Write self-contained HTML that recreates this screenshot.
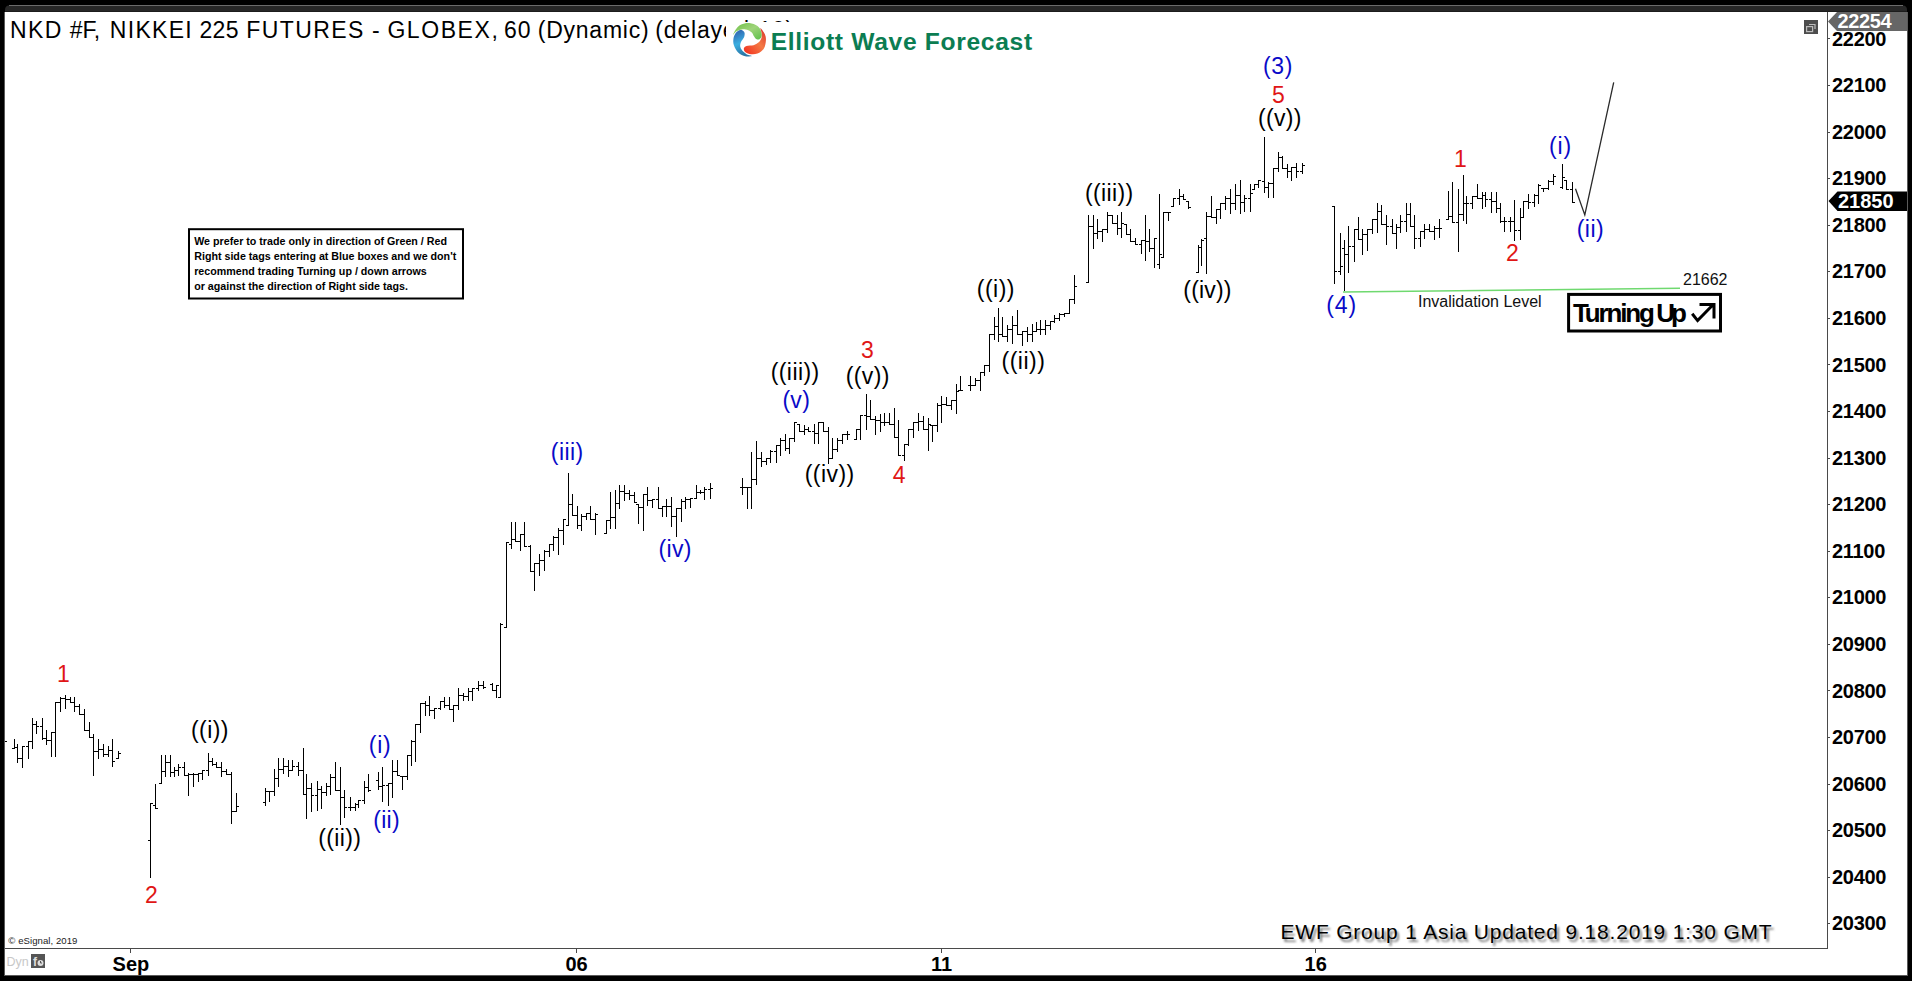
<!DOCTYPE html><html><head><meta charset="utf-8"><style>html,body{margin:0;padding:0;background:#000;width:1912px;height:981px;overflow:hidden}svg{display:block}text{font-family:"Liberation Sans",sans-serif}</style></head><body>
<svg width="1912" height="981" viewBox="0 0 1912 981">
<defs><filter id="sh" x="-5%" y="-30%" width="110%" height="160%"><feGaussianBlur stdDeviation="1.0"/></filter><linearGradient id="gG" x1="0" y1="0" x2="1" y2="1"><stop offset="0" stop-color="#6cbf45"/><stop offset="0.5" stop-color="#9fd47a"/><stop offset="1" stop-color="#5cc04a"/></linearGradient><linearGradient id="gR" x1="1" y1="0" x2="0" y2="1"><stop offset="0" stop-color="#d9302a"/><stop offset="0.45" stop-color="#f47a45"/><stop offset="1" stop-color="#f22a1c"/></linearGradient><linearGradient id="gB" x1="0" y1="0" x2="0.3" y2="1"><stop offset="0" stop-color="#2f5aa8"/><stop offset="0.55" stop-color="#3aaee0"/><stop offset="1" stop-color="#2a78a8"/></linearGradient></defs>
<rect x="0" y="0" width="1912" height="981" fill="#000"/>
<path d="M9 5.5 H1903 Q1907 5.5 1907 10 V12 H5 V10 Q5 5.5 9 5.5 Z" fill="#272727"/>
<path d="M9 5.5 H1903" stroke="#6b6b6b" stroke-width="1"/>
<rect x="5" y="11" width="1902" height="1" fill="#1c1c1c"/>
<rect x="4" y="12" width="1904" height="964" fill="#5a5a5a"/>
<rect x="5" y="12" width="1902" height="963" fill="#fff"/>
<rect x="1827" y="12" width="1" height="937" fill="#4a4a4a"/>
<rect x="5" y="948" width="1823" height="1" fill="#4a4a4a"/>
<rect x="1828" y="38" width="2" height="1" fill="#4a4a4a"/>
<text x="1832" y="45.5" font-size="20" font-weight="bold" letter-spacing="-0.3" fill="#000">22200</text>
<rect x="1828" y="85" width="2" height="1" fill="#4a4a4a"/>
<text x="1832" y="92.1" font-size="20" font-weight="bold" letter-spacing="-0.3" fill="#000">22100</text>
<rect x="1828" y="132" width="2" height="1" fill="#4a4a4a"/>
<text x="1832" y="138.6" font-size="20" font-weight="bold" letter-spacing="-0.3" fill="#000">22000</text>
<rect x="1828" y="178" width="2" height="1" fill="#4a4a4a"/>
<text x="1832" y="185.2" font-size="20" font-weight="bold" letter-spacing="-0.3" fill="#000">21900</text>
<rect x="1828" y="225" width="2" height="1" fill="#4a4a4a"/>
<text x="1832" y="231.8" font-size="20" font-weight="bold" letter-spacing="-0.3" fill="#000">21800</text>
<rect x="1828" y="271" width="2" height="1" fill="#4a4a4a"/>
<text x="1832" y="278.4" font-size="20" font-weight="bold" letter-spacing="-0.3" fill="#000">21700</text>
<rect x="1828" y="318" width="2" height="1" fill="#4a4a4a"/>
<text x="1832" y="324.9" font-size="20" font-weight="bold" letter-spacing="-0.3" fill="#000">21600</text>
<rect x="1828" y="364" width="2" height="1" fill="#4a4a4a"/>
<text x="1832" y="371.5" font-size="20" font-weight="bold" letter-spacing="-0.3" fill="#000">21500</text>
<rect x="1828" y="411" width="2" height="1" fill="#4a4a4a"/>
<text x="1832" y="418.1" font-size="20" font-weight="bold" letter-spacing="-0.3" fill="#000">21400</text>
<rect x="1828" y="458" width="2" height="1" fill="#4a4a4a"/>
<text x="1832" y="464.6" font-size="20" font-weight="bold" letter-spacing="-0.3" fill="#000">21300</text>
<rect x="1828" y="504" width="2" height="1" fill="#4a4a4a"/>
<text x="1832" y="511.2" font-size="20" font-weight="bold" letter-spacing="-0.3" fill="#000">21200</text>
<rect x="1828" y="551" width="2" height="1" fill="#4a4a4a"/>
<text x="1832" y="557.8" font-size="20" font-weight="bold" letter-spacing="-0.3" fill="#000">21100</text>
<rect x="1828" y="597" width="2" height="1" fill="#4a4a4a"/>
<text x="1832" y="604.3" font-size="20" font-weight="bold" letter-spacing="-0.3" fill="#000">21000</text>
<rect x="1828" y="644" width="2" height="1" fill="#4a4a4a"/>
<text x="1832" y="650.9" font-size="20" font-weight="bold" letter-spacing="-0.3" fill="#000">20900</text>
<rect x="1828" y="690" width="2" height="1" fill="#4a4a4a"/>
<text x="1832" y="697.5" font-size="20" font-weight="bold" letter-spacing="-0.3" fill="#000">20800</text>
<rect x="1828" y="737" width="2" height="1" fill="#4a4a4a"/>
<text x="1832" y="744.0" font-size="20" font-weight="bold" letter-spacing="-0.3" fill="#000">20700</text>
<rect x="1828" y="784" width="2" height="1" fill="#4a4a4a"/>
<text x="1832" y="790.6" font-size="20" font-weight="bold" letter-spacing="-0.3" fill="#000">20600</text>
<rect x="1828" y="830" width="2" height="1" fill="#4a4a4a"/>
<text x="1832" y="837.2" font-size="20" font-weight="bold" letter-spacing="-0.3" fill="#000">20500</text>
<rect x="1828" y="877" width="2" height="1" fill="#4a4a4a"/>
<text x="1832" y="883.8" font-size="20" font-weight="bold" letter-spacing="-0.3" fill="#000">20400</text>
<rect x="1828" y="923" width="2" height="1" fill="#4a4a4a"/>
<text x="1832" y="930.3" font-size="20" font-weight="bold" letter-spacing="-0.3" fill="#000">20300</text>
<path d="M1828 21.5 L1837 12 H1907 V31 H1837 Z" fill="#666"/>
<text x="1837.5" y="28.3" font-size="20" font-weight="bold" letter-spacing="-0.35" fill="#fff">22254</text>
<path d="M1828.5 201 L1837.5 191.5 H1907 V211 H1837.5 Z" fill="#000"/>
<text x="1838" y="208" font-size="20" font-weight="bold" fill="#fff">21850</text>
<rect x="1804" y="20" width="14" height="14" fill="#4d4d4d"/><path d="M1809 24.5 H1815 V29" stroke="#bbb" stroke-width="1.2" fill="none"/><rect x="1806.6" y="26.6" width="6" height="5" stroke="#bbb" stroke-width="1.2" fill="none"/>
<rect x="130" y="949" width="1" height="4" fill="#4a4a4a"/>
<text x="130.9" y="971" font-size="20" font-weight="bold" fill="#000" text-anchor="middle">Sep</text>
<rect x="576" y="949" width="1" height="4" fill="#4a4a4a"/>
<text x="576.5" y="971" font-size="20" font-weight="bold" fill="#000" text-anchor="middle">06</text>
<rect x="941" y="949" width="1" height="4" fill="#4a4a4a"/>
<text x="941.5" y="971" font-size="20" font-weight="bold" fill="#000" text-anchor="middle">11</text>
<rect x="1315" y="949" width="1" height="4" fill="#4a4a4a"/>
<text x="1315.7" y="971" font-size="20" font-weight="bold" fill="#000" text-anchor="middle">16</text>
<text x="8.3" y="943.8" font-size="9.6" letter-spacing="0.05" fill="#222">© eSignal, 2019</text>
<text x="6.5" y="966" font-size="12.5" fill="#c8c8c8">Dyn</text>
<rect x="31" y="954" width="14" height="14" fill="#555"/><text x="33" y="966" font-size="12" font-weight="bold" fill="#ddd">f</text><circle cx="40.5" cy="963" r="3" fill="#ddd"/><path d="M40.5 961 V963 H42" stroke="#555" stroke-width="1" fill="none"/>
<text x="9.93" y="37.60" font-size="23" letter-spacing="1.49" fill="#000">NKD</text>
<text x="69.78" y="37.60" font-size="23" letter-spacing="-0.16" fill="#000">#F,</text>
<text x="109.83" y="37.60" font-size="23" letter-spacing="1.30" fill="#000">NIKKEI</text>
<text x="199.38" y="37.60" font-size="23" letter-spacing="0.41" fill="#000">225</text>
<text x="246.22" y="37.60" font-size="23" letter-spacing="1.40" fill="#000">FUTURES</text>
<text x="371.90" y="37.60" font-size="23" letter-spacing="0.80" fill="#000">-</text>
<text x="387.38" y="37.60" font-size="23" letter-spacing="1.57" fill="#000">GLOBEX,</text>
<text x="504.07" y="37.60" font-size="23" letter-spacing="1.00" fill="#000">60</text>
<text x="537.73" y="37.60" font-size="23" letter-spacing="0.77" fill="#000">(Dynamic)</text>
<text x="655.33" y="37.60" font-size="23" letter-spacing="0.80" fill="#000">(delayed-10)</text>
<rect x="726" y="22" width="320" height="38" fill="#fff"/>
<path d="M733.10 34.70 C733.10 34.25 735.15 30.20 736.50 28.50 C737.85 26.80 739.05 25.40 741.20 24.50 C743.35 23.60 746.68 22.83 749.40 23.10 C752.12 23.37 755.53 24.72 757.50 26.10 C759.47 27.48 760.52 29.70 761.20 31.40 C761.88 33.10 761.93 34.97 761.60 36.30 C761.27 37.63 760.10 38.95 759.20 39.40 C758.30 39.85 757.10 39.57 756.20 39.00 C755.30 38.43 754.50 37.03 753.80 36.00 C753.10 34.97 752.93 33.77 752.00 32.80 C751.07 31.83 749.87 30.77 748.20 30.20 C746.53 29.63 743.95 29.23 742.00 29.40 C740.05 29.57 737.98 30.32 736.50 31.20 C735.02 32.08 733.10 35.15 733.10 34.70Z" fill="url(#gG)"/>
<path d="M760.40 28.00 C760.92 28.13 763.98 32.23 764.90 34.30 C765.82 36.37 766.07 38.03 765.90 40.40 C765.73 42.77 765.30 46.30 763.90 48.50 C762.50 50.70 759.92 52.68 757.50 53.60 C755.08 54.52 751.48 54.30 749.40 54.00 C747.32 53.70 745.92 52.75 745.00 51.80 C744.08 50.85 743.65 49.28 743.90 48.30 C744.15 47.32 744.90 46.42 746.50 45.90 C748.10 45.38 751.52 45.75 753.50 45.20 C755.48 44.65 757.10 43.70 758.40 42.60 C759.70 41.50 760.73 40.12 761.30 38.60 C761.87 37.08 761.95 35.27 761.80 33.50 C761.65 31.73 759.88 27.87 760.40 28.00Z" fill="url(#gR)"/>
<path d="M742.60 30.40 C743.47 30.87 744.38 31.80 744.60 33.00 C744.82 34.20 744.50 36.10 743.90 37.60 C743.30 39.10 741.62 40.52 741.00 42.00 C740.38 43.48 740.00 45.07 740.20 46.50 C740.40 47.93 741.08 49.28 742.20 50.60 C743.32 51.92 745.30 53.52 746.90 54.40 C748.50 55.28 752.07 55.60 751.80 55.90 C751.53 56.20 747.53 56.72 745.30 56.20 C743.07 55.68 740.30 54.62 738.40 52.80 C736.50 50.98 734.72 47.72 733.90 45.30 C733.08 42.88 733.17 40.38 733.50 38.30 C733.83 36.22 734.92 34.15 735.90 32.80 C736.88 31.45 738.28 30.60 739.40 30.20 C740.52 29.80 741.73 29.93 742.60 30.40Z" fill="url(#gB)"/>
<text x="770.67" y="49.60" font-size="24.6" font-weight="bold" letter-spacing="0.68" fill="#0b7d52">Elliott Wave Forecast</text>
<path d="M14 739h1v10h-1zM12 748h2v1h-2zM15 747h2v1h-2zM17 744h1v19h-1zM15 747h2v1h-2zM18 758h2v1h-2zM22 746h1v22h-1zM20 758h2v1h-2zM23 746h2v1h-2zM28 741h1v18h-1zM26 746h2v1h-2zM29 741h2v1h-2zM32 718h1v31h-1zM30 741h2v1h-2zM33 724h2v1h-2zM36 721h1v13h-1zM34 724h2v1h-2zM37 726h2v1h-2zM42 718h1v22h-1zM40 726h2v1h-2zM43 738h2v1h-2zM46 730h1v15h-1zM44 738h2v1h-2zM47 740h2v1h-2zM51 732h1v25h-1zM49 740h2v1h-2zM52 732h2v1h-2zM55 702h1v55h-1zM53 732h2v1h-2zM56 702h2v1h-2zM60 697h1v15h-1zM58 702h2v1h-2zM61 698h2v1h-2zM65 695h1v14h-1zM63 698h2v1h-2zM66 699h2v1h-2zM70 697h1v6h-1zM68 699h2v1h-2zM71 702h2v1h-2zM74 697h1v15h-1zM72 702h2v1h-2zM75 706h2v1h-2zM79 704h1v11h-1zM77 706h2v1h-2zM80 714h2v1h-2zM84 709h1v22h-1zM82 714h2v1h-2zM85 730h2v1h-2zM89 722h1v16h-1zM87 730h2v1h-2zM90 737h2v1h-2zM93 734h1v42h-1zM91 737h2v1h-2zM94 751h2v1h-2zM98 739h1v20h-1zM96 751h2v1h-2zM99 749h2v1h-2zM103 744h1v13h-1zM101 749h2v1h-2zM104 754h2v1h-2zM108 746h1v11h-1zM106 754h2v1h-2zM109 750h2v1h-2zM112 739h1v28h-1zM110 750h2v1h-2zM113 761h2v1h-2zM118 751h1v8h-1zM116 758h2v1h-2zM119 753h2v1h-2zM150 803h1v75h-1zM148 840h2v1h-2zM151 803h2v1h-2zM155 784h1v25h-1zM153 805h2v1h-2zM156 808h2v1h-2zM161 755h1v29h-1zM159 783h2v1h-2zM162 771h2v1h-2zM165 755h1v22h-1zM163 771h2v1h-2zM166 762h2v1h-2zM170 755h1v22h-1zM168 762h2v1h-2zM171 772h2v1h-2zM174 767h1v10h-1zM172 772h2v1h-2zM175 770h2v1h-2zM178 764h1v12h-1zM176 770h2v1h-2zM179 767h2v1h-2zM184 762h1v14h-1zM182 767h2v1h-2zM185 775h2v1h-2zM188 773h1v23h-1zM186 775h2v1h-2zM189 774h2v1h-2zM193 773h1v14h-1zM191 774h2v1h-2zM194 774h2v1h-2zM198 773h1v9h-1zM196 774h2v1h-2zM199 773h2v1h-2zM202 770h1v10h-1zM200 773h2v1h-2zM203 770h2v1h-2zM208 753h1v23h-1zM206 770h2v1h-2zM209 761h2v1h-2zM212 758h1v8h-1zM210 761h2v1h-2zM213 764h2v1h-2zM216 762h1v6h-1zM214 764h2v1h-2zM217 767h2v1h-2zM221 762h1v15h-1zM219 767h2v1h-2zM222 771h2v1h-2zM226 769h1v6h-1zM224 771h2v1h-2zM227 774h2v1h-2zM231 772h1v52h-1zM229 774h2v1h-2zM232 811h2v1h-2zM236 793h1v19h-1zM234 811h2v1h-2zM237 806h2v1h-2zM265 788h1v18h-1zM263 802h2v1h-2zM266 791h2v1h-2zM269 791h1v11h-1zM267 791h2v1h-2zM270 791h2v1h-2zM274 769h1v27h-1zM272 791h2v1h-2zM275 778h2v1h-2zM278 758h1v29h-1zM276 778h2v1h-2zM279 769h2v1h-2zM283 758h1v16h-1zM281 769h2v1h-2zM284 766h2v1h-2zM288 760h1v17h-1zM286 766h2v1h-2zM289 770h2v1h-2zM292 760h1v11h-1zM290 770h2v1h-2zM293 766h2v1h-2zM298 762h1v14h-1zM296 766h2v1h-2zM299 770h2v1h-2zM303 748h1v47h-1zM301 770h2v1h-2zM304 794h2v1h-2zM306 774h1v45h-1zM304 794h2v1h-2zM307 788h2v1h-2zM311 783h1v29h-1zM309 788h2v1h-2zM312 795h2v1h-2zM317 781h1v30h-1zM315 795h2v1h-2zM318 789h2v1h-2zM321 786h1v23h-1zM319 789h2v1h-2zM322 792h2v1h-2zM326 783h1v13h-1zM324 792h2v1h-2zM327 786h2v1h-2zM330 774h1v21h-1zM328 786h2v1h-2zM331 777h2v1h-2zM335 762h1v29h-1zM333 777h2v1h-2zM336 790h2v1h-2zM340 767h1v58h-1zM338 790h2v1h-2zM341 797h2v1h-2zM344 790h1v28h-1zM342 797h2v1h-2zM345 807h2v1h-2zM350 797h1v14h-1zM348 807h2v1h-2zM351 807h2v1h-2zM355 803h1v8h-1zM353 807h2v1h-2zM356 804h2v1h-2zM358 800h1v8h-1zM356 804h2v1h-2zM359 800h2v1h-2zM364 781h1v23h-1zM362 800h2v1h-2zM365 787h2v1h-2zM368 774h1v18h-1zM366 787h2v1h-2zM369 790h2v1h-2zM378 772h1v18h-1zM376 780h2v1h-2zM379 786h2v1h-2zM382 767h1v35h-1zM380 786h2v1h-2zM383 785h2v1h-2zM388 783h1v23h-1zM386 785h2v1h-2zM389 783h2v1h-2zM392 760h1v38h-1zM390 783h2v1h-2zM393 771h2v1h-2zM397 760h1v16h-1zM395 771h2v1h-2zM398 775h2v1h-2zM402 776h1v14h-1zM400 776h2v1h-2zM403 776h2v1h-2zM407 755h1v25h-1zM405 776h2v1h-2zM408 755h2v1h-2zM411 740h1v26h-1zM409 755h2v1h-2zM412 741h2v1h-2zM415 724h1v38h-1zM413 741h2v1h-2zM416 724h2v1h-2zM420 703h1v30h-1zM418 724h2v1h-2zM421 703h2v1h-2zM425 701h1v15h-1zM423 703h2v1h-2zM426 705h2v1h-2zM429 696h1v20h-1zM427 705h2v1h-2zM430 710h2v1h-2zM434 708h1v11h-1zM432 710h2v1h-2zM435 708h2v1h-2zM440 701h1v9h-1zM438 708h2v1h-2zM441 701h2v1h-2zM444 697h1v11h-1zM442 701h2v1h-2zM445 705h2v1h-2zM449 697h1v13h-1zM447 705h2v1h-2zM450 709h2v1h-2zM453 705h1v17h-1zM451 709h2v1h-2zM454 705h2v1h-2zM458 688h1v22h-1zM456 705h2v1h-2zM459 695h2v1h-2zM463 693h1v8h-1zM461 695h2v1h-2zM464 696h2v1h-2zM468 688h1v13h-1zM466 696h2v1h-2zM469 691h2v1h-2zM472 688h1v13h-1zM470 691h2v1h-2zM473 688h2v1h-2zM478 681h1v10h-1zM476 688h2v1h-2zM479 685h2v1h-2zM483 681h1v8h-1zM481 685h2v1h-2zM484 687h2v1h-2zM492 683h1v8h-1zM490 684h2v1h-2zM493 690h2v1h-2zM496 685h1v13h-1zM494 690h2v1h-2zM497 685h2v1h-2zM500 623h1v75h-1zM498 697h2v1h-2zM501 624h2v1h-2zM506 542h1v86h-1zM504 627h2v1h-2zM507 542h2v1h-2zM511 522h1v27h-1zM509 544h2v1h-2zM512 539h2v1h-2zM515 522h1v20h-1zM513 539h2v1h-2zM516 541h2v1h-2zM520 534h1v17h-1zM518 541h2v1h-2zM521 534h2v1h-2zM524 522h1v25h-1zM522 534h2v1h-2zM525 546h2v1h-2zM530 545h1v27h-1zM528 546h2v1h-2zM531 571h2v1h-2zM534 563h1v28h-1zM532 571h2v1h-2zM535 563h2v1h-2zM539 554h1v22h-1zM537 563h2v1h-2zM540 560h2v1h-2zM544 550h1v21h-1zM542 560h2v1h-2zM545 551h2v1h-2zM549 544h1v13h-1zM547 551h2v1h-2zM550 544h2v1h-2zM553 536h1v15h-1zM551 544h2v1h-2zM554 537h2v1h-2zM558 528h1v27h-1zM556 537h2v1h-2zM559 530h2v1h-2zM563 519h1v26h-1zM561 530h2v1h-2zM564 519h2v1h-2zM568 473h1v53h-1zM566 525h2v1h-2zM569 504h2v1h-2zM572 494h1v22h-1zM570 504h2v1h-2zM573 515h2v1h-2zM577 506h1v23h-1zM575 515h2v1h-2zM578 525h2v1h-2zM581 514h1v17h-1zM579 525h2v1h-2zM582 516h2v1h-2zM586 513h1v7h-1zM584 516h2v1h-2zM587 513h2v1h-2zM590 506h1v14h-1zM588 513h2v1h-2zM591 519h2v1h-2zM595 513h1v22h-1zM593 519h2v1h-2zM596 514h2v1h-2zM606 520h1v14h-1zM604 533h2v1h-2zM607 520h2v1h-2zM610 492h1v37h-1zM608 520h2v1h-2zM611 517h2v1h-2zM615 490h1v39h-1zM613 517h2v1h-2zM616 503h2v1h-2zM619 485h1v24h-1zM617 503h2v1h-2zM620 491h2v1h-2zM624 485h1v16h-1zM622 491h2v1h-2zM625 493h2v1h-2zM629 490h1v10h-1zM627 493h2v1h-2zM630 495h2v1h-2zM634 492h1v11h-1zM632 495h2v1h-2zM635 502h2v1h-2zM638 504h1v20h-1zM636 504h2v1h-2zM639 507h2v1h-2zM643 494h1v37h-1zM641 507h2v1h-2zM644 494h2v1h-2zM647 487h1v19h-1zM645 494h2v1h-2zM648 500h2v1h-2zM652 499h1v9h-1zM650 500h2v1h-2zM653 499h2v1h-2zM658 487h1v22h-1zM656 499h2v1h-2zM659 508h2v1h-2zM662 506h1v11h-1zM660 508h2v1h-2zM663 506h2v1h-2zM666 499h1v18h-1zM664 506h2v1h-2zM667 506h2v1h-2zM671 497h1v30h-1zM669 506h2v1h-2zM672 516h2v1h-2zM676 508h1v29h-1zM674 516h2v1h-2zM677 508h2v1h-2zM681 499h1v23h-1zM679 508h2v1h-2zM682 501h2v1h-2zM685 497h1v12h-1zM683 501h2v1h-2zM686 499h2v1h-2zM690 498h1v10h-1zM688 499h2v1h-2zM691 498h2v1h-2zM696 485h1v14h-1zM694 498h2v1h-2zM697 492h2v1h-2zM700 490h1v4h-1zM698 492h2v1h-2zM701 492h2v1h-2zM704 487h1v13h-1zM702 492h2v1h-2zM705 489h2v1h-2zM710 483h1v16h-1zM708 489h2v1h-2zM711 488h2v1h-2zM742 478h1v17h-1zM740 487h2v1h-2zM743 487h2v1h-2zM747 487h1v22h-1zM745 487h2v1h-2zM748 487h2v1h-2zM751 452h1v57h-1zM749 487h2v1h-2zM752 479h2v1h-2zM756 441h1v44h-1zM754 479h2v1h-2zM757 458h2v1h-2zM761 452h1v15h-1zM759 458h2v1h-2zM762 461h2v1h-2zM766 458h1v7h-1zM764 461h2v1h-2zM767 458h2v1h-2zM770 450h1v13h-1zM768 458h2v1h-2zM771 451h2v1h-2zM776 445h1v18h-1zM774 451h2v1h-2zM777 445h2v1h-2zM780 438h1v18h-1zM778 445h2v1h-2zM781 440h2v1h-2zM785 434h1v17h-1zM783 440h2v1h-2zM786 448h2v1h-2zM789 438h1v16h-1zM787 448h2v1h-2zM790 438h2v1h-2zM794 422h1v20h-1zM792 438h2v1h-2zM795 422h2v1h-2zM799 424h1v8h-1zM797 424h2v1h-2zM800 431h2v1h-2zM804 425h1v10h-1zM802 431h2v1h-2zM805 429h2v1h-2zM808 427h1v5h-1zM806 429h2v1h-2zM809 431h2v1h-2zM814 424h1v20h-1zM812 431h2v1h-2zM815 433h2v1h-2zM818 422h1v22h-1zM816 433h2v1h-2zM819 422h2v1h-2zM823 422h1v10h-1zM821 422h2v1h-2zM824 431h2v1h-2zM828 427h1v37h-1zM826 431h2v1h-2zM829 458h2v1h-2zM832 438h1v21h-1zM830 458h2v1h-2zM833 449h2v1h-2zM837 438h1v14h-1zM835 449h2v1h-2zM838 440h2v1h-2zM842 434h1v10h-1zM840 440h2v1h-2zM843 434h2v1h-2zM847 431h1v9h-1zM845 434h2v1h-2zM848 434h2v1h-2zM856 429h1v11h-1zM854 439h2v1h-2zM857 429h2v1h-2zM860 415h1v25h-1zM858 429h2v1h-2zM861 415h2v1h-2zM866 394h1v36h-1zM864 415h2v1h-2zM867 416h2v1h-2zM870 400h1v20h-1zM868 416h2v1h-2zM871 419h2v1h-2zM875 416h1v19h-1zM873 419h2v1h-2zM876 420h2v1h-2zM880 414h1v18h-1zM878 420h2v1h-2zM881 422h2v1h-2zM884 413h1v13h-1zM882 422h2v1h-2zM885 422h2v1h-2zM889 413h1v12h-1zM887 422h2v1h-2zM890 424h2v1h-2zM894 408h1v30h-1zM892 424h2v1h-2zM895 437h2v1h-2zM898 420h1v36h-1zM896 437h2v1h-2zM899 455h2v1h-2zM904 444h1v17h-1zM902 455h2v1h-2zM905 444h2v1h-2zM908 429h1v17h-1zM906 444h2v1h-2zM909 429h2v1h-2zM913 422h1v16h-1zM911 429h2v1h-2zM914 422h2v1h-2zM918 413h1v18h-1zM916 422h2v1h-2zM919 421h2v1h-2zM923 416h1v14h-1zM921 421h2v1h-2zM924 429h2v1h-2zM928 418h1v33h-1zM926 429h2v1h-2zM929 424h2v1h-2zM932 425h1v17h-1zM930 425h2v1h-2zM933 425h2v1h-2zM937 403h1v29h-1zM935 425h2v1h-2zM938 405h2v1h-2zM941 396h1v27h-1zM939 405h2v1h-2zM942 404h2v1h-2zM946 397h1v9h-1zM944 404h2v1h-2zM947 405h2v1h-2zM951 400h1v10h-1zM949 405h2v1h-2zM952 400h2v1h-2zM956 384h1v30h-1zM954 400h2v1h-2zM957 391h2v1h-2zM960 376h1v15h-1zM958 390h2v1h-2zM961 390h2v1h-2zM970 376h1v15h-1zM968 385h2v1h-2zM971 385h2v1h-2zM975 378h1v8h-1zM973 385h2v1h-2zM976 380h2v1h-2zM980 372h1v19h-1zM978 380h2v1h-2zM981 372h2v1h-2zM984 365h1v11h-1zM982 372h2v1h-2zM985 365h2v1h-2zM989 334h1v38h-1zM987 365h2v1h-2zM990 334h2v1h-2zM994 317h1v23h-1zM992 334h2v1h-2zM995 326h2v1h-2zM998 308h1v34h-1zM996 326h2v1h-2zM999 334h2v1h-2zM1002 317h1v20h-1zM1000 334h2v1h-2zM1003 336h2v1h-2zM1007 325h1v17h-1zM1005 336h2v1h-2zM1008 329h2v1h-2zM1012 316h1v28h-1zM1010 329h2v1h-2zM1013 325h2v1h-2zM1017 310h1v25h-1zM1015 325h2v1h-2zM1018 334h2v1h-2zM1022 331h1v15h-1zM1020 334h2v1h-2zM1023 331h2v1h-2zM1027 327h1v15h-1zM1025 331h2v1h-2zM1028 334h2v1h-2zM1032 324h1v18h-1zM1030 334h2v1h-2zM1033 331h2v1h-2zM1036 322h1v10h-1zM1034 331h2v1h-2zM1037 329h2v1h-2zM1040 320h1v15h-1zM1038 329h2v1h-2zM1041 329h2v1h-2zM1045 320h1v15h-1zM1043 329h2v1h-2zM1046 325h2v1h-2zM1050 321h1v9h-1zM1048 325h2v1h-2zM1051 321h2v1h-2zM1054 315h1v8h-1zM1052 321h2v1h-2zM1055 318h2v1h-2zM1059 313h1v8h-1zM1057 318h2v1h-2zM1060 314h2v1h-2zM1064 313h1v4h-1zM1062 314h2v1h-2zM1065 313h2v1h-2zM1069 299h1v15h-1zM1067 313h2v1h-2zM1070 299h2v1h-2zM1074 275h1v29h-1zM1072 299h2v1h-2zM1075 286h2v1h-2zM1088 215h1v68h-1zM1086 282h2v1h-2zM1089 226h2v1h-2zM1093 215h1v34h-1zM1091 226h2v1h-2zM1094 233h2v1h-2zM1097 219h1v20h-1zM1095 233h2v1h-2zM1098 231h2v1h-2zM1102 229h1v13h-1zM1100 231h2v1h-2zM1103 229h2v1h-2zM1107 212h1v21h-1zM1105 229h2v1h-2zM1108 215h2v1h-2zM1112 215h1v9h-1zM1110 215h2v1h-2zM1113 223h2v1h-2zM1117 215h1v20h-1zM1115 223h2v1h-2zM1118 228h2v1h-2zM1121 212h1v26h-1zM1119 228h2v1h-2zM1122 223h2v1h-2zM1126 224h1v11h-1zM1124 224h2v1h-2zM1127 234h2v1h-2zM1130 229h1v13h-1zM1128 234h2v1h-2zM1131 241h2v1h-2zM1135 238h1v7h-1zM1133 241h2v1h-2zM1136 244h2v1h-2zM1141 240h1v14h-1zM1139 244h2v1h-2zM1142 240h2v1h-2zM1145 215h1v46h-1zM1143 240h2v1h-2zM1146 241h2v1h-2zM1149 229h1v23h-1zM1147 241h2v1h-2zM1150 248h2v1h-2zM1154 238h1v30h-1zM1152 248h2v1h-2zM1155 238h2v1h-2zM1159 194h1v75h-1zM1157 264h2v1h-2zM1160 254h2v1h-2zM1163 212h1v46h-1zM1161 257h2v1h-2zM1164 212h2v1h-2zM1168 212h1v9h-1zM1166 212h2v1h-2zM1169 212h2v1h-2zM1173 198h1v9h-1zM1171 206h2v1h-2zM1174 198h2v1h-2zM1179 189h1v16h-1zM1177 198h2v1h-2zM1180 196h2v1h-2zM1183 194h1v6h-1zM1181 196h2v1h-2zM1184 199h2v1h-2zM1188 201h1v8h-1zM1186 201h2v1h-2zM1189 207h2v1h-2zM1198 245h1v28h-1zM1196 272h2v1h-2zM1199 247h2v1h-2zM1201 239h1v27h-1zM1199 247h2v1h-2zM1202 240h2v1h-2zM1206 212h1v62h-1zM1204 238h2v1h-2zM1207 216h2v1h-2zM1211 196h1v22h-1zM1209 216h2v1h-2zM1212 217h2v1h-2zM1216 209h1v15h-1zM1214 217h2v1h-2zM1217 209h2v1h-2zM1220 203h1v16h-1zM1218 209h2v1h-2zM1221 203h2v1h-2zM1225 196h1v14h-1zM1223 203h2v1h-2zM1226 198h2v1h-2zM1230 189h1v25h-1zM1228 198h2v1h-2zM1231 203h2v1h-2zM1235 184h1v26h-1zM1233 203h2v1h-2zM1236 195h2v1h-2zM1240 180h1v34h-1zM1238 195h2v1h-2zM1241 202h2v1h-2zM1244 195h1v17h-1zM1242 202h2v1h-2zM1245 198h2v1h-2zM1250 184h1v28h-1zM1248 198h2v1h-2zM1251 193h2v1h-2zM1254 184h1v6h-1zM1252 189h2v1h-2zM1255 184h2v1h-2zM1258 180h1v8h-1zM1256 184h2v1h-2zM1259 180h2v1h-2zM1264 137h1v56h-1zM1262 181h2v1h-2zM1265 187h2v1h-2zM1268 182h1v16h-1zM1266 187h2v1h-2zM1269 183h2v1h-2zM1273 168h1v30h-1zM1271 183h2v1h-2zM1274 168h2v1h-2zM1278 152h1v20h-1zM1276 168h2v1h-2zM1279 157h2v1h-2zM1282 156h1v13h-1zM1280 157h2v1h-2zM1283 168h2v1h-2zM1287 164h1v14h-1zM1285 168h2v1h-2zM1288 171h2v1h-2zM1291 167h1v14h-1zM1289 171h2v1h-2zM1292 167h2v1h-2zM1296 163h1v15h-1zM1294 167h2v1h-2zM1297 171h2v1h-2zM1302 163h1v11h-1zM1300 171h2v1h-2zM1303 165h2v1h-2zM1334 206h1v78h-1zM1332 206h2v1h-2zM1335 271h2v1h-2zM1340 233h1v42h-1zM1338 271h2v1h-2zM1341 266h2v1h-2zM1344 240h1v51h-1zM1342 248h2v1h-2zM1345 254h2v1h-2zM1348 226h1v47h-1zM1346 254h2v1h-2zM1349 246h2v1h-2zM1354 229h1v33h-1zM1352 246h2v1h-2zM1355 229h2v1h-2zM1358 217h1v23h-1zM1356 229h2v1h-2zM1359 239h2v1h-2zM1362 229h1v26h-1zM1360 239h2v1h-2zM1363 234h2v1h-2zM1367 229h1v22h-1zM1365 234h2v1h-2zM1368 229h2v1h-2zM1372 219h1v15h-1zM1370 229h2v1h-2zM1373 219h2v1h-2zM1377 203h1v30h-1zM1375 219h2v1h-2zM1378 211h2v1h-2zM1381 205h1v20h-1zM1379 211h2v1h-2zM1382 224h2v1h-2zM1386 215h1v30h-1zM1384 224h2v1h-2zM1387 226h2v1h-2zM1392 219h1v15h-1zM1390 226h2v1h-2zM1393 233h2v1h-2zM1396 224h1v25h-1zM1394 233h2v1h-2zM1397 227h2v1h-2zM1400 215h1v18h-1zM1398 227h2v1h-2zM1401 221h2v1h-2zM1406 203h1v29h-1zM1404 221h2v1h-2zM1407 214h2v1h-2zM1410 203h1v24h-1zM1408 214h2v1h-2zM1411 226h2v1h-2zM1414 215h1v34h-1zM1412 226h2v1h-2zM1415 238h2v1h-2zM1420 231h1v16h-1zM1418 238h2v1h-2zM1421 231h2v1h-2zM1424 224h1v15h-1zM1422 231h2v1h-2zM1425 229h2v1h-2zM1429 224h1v8h-1zM1427 229h2v1h-2zM1430 231h2v1h-2zM1434 226h1v14h-1zM1432 231h2v1h-2zM1435 228h2v1h-2zM1439 219h1v19h-1zM1437 228h2v1h-2zM1440 228h2v1h-2zM1448 191h1v29h-1zM1446 219h2v1h-2zM1449 216h2v1h-2zM1452 182h1v41h-1zM1450 216h2v1h-2zM1453 222h2v1h-2zM1458 189h1v63h-1zM1456 222h2v1h-2zM1459 214h2v1h-2zM1463 175h1v46h-1zM1461 214h2v1h-2zM1464 203h2v1h-2zM1466 196h1v28h-1zM1464 203h2v1h-2zM1467 203h2v1h-2zM1472 196h1v13h-1zM1470 203h2v1h-2zM1473 196h2v1h-2zM1477 184h1v15h-1zM1475 196h2v1h-2zM1478 198h2v1h-2zM1482 192h1v17h-1zM1480 198h2v1h-2zM1483 195h2v1h-2zM1485 192h1v15h-1zM1483 195h2v1h-2zM1486 199h2v1h-2zM1491 192h1v21h-1zM1489 199h2v1h-2zM1492 201h2v1h-2zM1496 192h1v21h-1zM1494 201h2v1h-2zM1497 208h2v1h-2zM1500 203h1v20h-1zM1498 208h2v1h-2zM1501 221h2v1h-2zM1504 217h1v15h-1zM1502 221h2v1h-2zM1505 221h2v1h-2zM1510 217h1v15h-1zM1508 221h2v1h-2zM1511 221h2v1h-2zM1514 200h1v41h-1zM1512 221h2v1h-2zM1515 230h2v1h-2zM1520 208h1v32h-1zM1518 230h2v1h-2zM1521 217h2v1h-2zM1523 201h1v17h-1zM1521 217h2v1h-2zM1524 201h2v1h-2zM1528 194h1v15h-1zM1526 201h2v1h-2zM1529 202h2v1h-2zM1534 194h1v13h-1zM1532 202h2v1h-2zM1535 195h2v1h-2zM1538 184h1v20h-1zM1536 195h2v1h-2zM1539 185h2v1h-2zM1543 188h1v4h-1zM1541 188h2v1h-2zM1544 188h2v1h-2zM1548 180h1v10h-1zM1546 188h2v1h-2zM1549 181h2v1h-2zM1553 174h1v11h-1zM1551 181h2v1h-2zM1554 176h2v1h-2zM1562 164h1v25h-1zM1560 187h2v1h-2zM1563 177h2v1h-2zM1566 180h1v10h-1zM1564 180h2v1h-2zM1567 189h2v1h-2zM1572 182h1v21h-1zM1570 189h2v1h-2zM1573 202h2v1h-2z" fill="#000" shape-rendering="crispEdges"/>
<rect x="5" y="741" width="2" height="1" fill="#000"/>
<polyline points="1575.5,188.8 1584.8,214.9 1613.7,82.3" fill="none" stroke="#2a2a2a" stroke-width="1.3"/>
<line x1="1343" y1="292" x2="1680" y2="288.3" stroke="#6fd96f" stroke-width="1.6"/>
<text x="1683" y="285" font-size="16" fill="#111">21662</text>
<text x="1418" y="307" font-size="16" fill="#111">Invalidation Level</text>
<rect x="1568.6" y="294.4" width="151.9" height="36.6" fill="#fff" stroke="#000" stroke-width="3"/>
<text x="1573.05" y="321.80" font-size="26" font-weight="bold" letter-spacing="-2.17" fill="#000">Turning</text>
<text x="1656.30" y="321.80" font-size="26" font-weight="bold" letter-spacing="-4.12" fill="#000">Up</text>
<path d="M1692.2 313.8 L1697.6 320.6 L1713 304.8 M1699.5 304.5 H1714 V318.5" fill="none" stroke="#000" stroke-width="3"/>
<rect x="189" y="229.2" width="274" height="69.3" fill="#fff" stroke="#000" stroke-width="2"/>
<text x="194.2" y="244.80" font-size="10.7" font-weight="bold" fill="#000">We prefer to trade only in direction of Green / Red</text>
<text x="194.2" y="259.75" font-size="10.7" font-weight="bold" fill="#000">Right side tags entering at Blue boxes and we don&#39;t</text>
<text x="194.2" y="274.70" font-size="10.7" font-weight="bold" fill="#000">recommend trading Turning up / down arrows</text>
<text x="194.2" y="289.65" font-size="10.7" font-weight="bold" fill="#000">or against the direction of Right side tags.</text>
<text x="1282.8" y="941.8" font-size="21" letter-spacing="0.8" fill="#7a7a7a" filter="url(#sh)">EWF Group 1 Asia Updated 9.18.2019 1:30 GMT</text>
<text x="1280.5" y="938.9" font-size="21" letter-spacing="0.8" fill="#000">EWF Group 1 Asia Updated 9.18.2019 1:30 GMT</text>
<text x="56.96" y="682.44" font-size="23" letter-spacing="0.00" fill="#e01616">1</text>
<text x="144.93" y="902.55" font-size="23" letter-spacing="0.00" fill="#e01616">2</text>
<text x="190.95" y="738.14" font-size="23" letter-spacing="0.45" fill="#000">((i))</text>
<text x="318.18" y="846.09" font-size="23" letter-spacing="0.40" fill="#000">((ii))</text>
<text x="368.82" y="753.09" font-size="23" letter-spacing="0.69" fill="#0a0ac8">(i)</text>
<text x="373.15" y="827.64" font-size="23" letter-spacing="0.35" fill="#0a0ac8">(ii)</text>
<text x="550.83" y="459.59" font-size="23" letter-spacing="0.41" fill="#0a0ac8">(iii)</text>
<text x="658.62" y="556.89" font-size="23" letter-spacing="0.29" fill="#0a0ac8">(iv)</text>
<text x="770.70" y="379.89" font-size="23" letter-spacing="0.43" fill="#000">((iii))</text>
<text x="782.41" y="408.09" font-size="23" letter-spacing="0.30" fill="#0a0ac8">(v)</text>
<text x="860.94" y="358.43" font-size="23" letter-spacing="0.00" fill="#e01616">3</text>
<text x="845.73" y="384.39" font-size="23" letter-spacing="0.41" fill="#000">((v))</text>
<text x="804.64" y="481.89" font-size="23" letter-spacing="0.48" fill="#000">((iv))</text>
<text x="892.69" y="483.44" font-size="23" letter-spacing="0.00" fill="#e01616">4</text>
<text x="976.84" y="296.84" font-size="23" letter-spacing="0.47" fill="#000">((i))</text>
<text x="1001.46" y="368.54" font-size="23" letter-spacing="0.52" fill="#000">((ii))</text>
<text x="1084.88" y="200.89" font-size="23" letter-spacing="0.38" fill="#000">((iii))</text>
<text x="1183.34" y="298.49" font-size="23" letter-spacing="0.18" fill="#000">((iv))</text>
<text x="1263.06" y="73.84" font-size="23" letter-spacing="0.66" fill="#0a0ac8">(3)</text>
<text x="1272.08" y="103.26" font-size="23" letter-spacing="0.00" fill="#e01616">5</text>
<text x="1257.95" y="125.89" font-size="23" letter-spacing="0.36" fill="#000">((v))</text>
<text x="1326.33" y="313.14" font-size="23" letter-spacing="0.81" fill="#0a0ac8">(4)</text>
<text x="1453.91" y="166.84" font-size="23" letter-spacing="0.00" fill="#e01616">1</text>
<text x="1505.97" y="261.45" font-size="23" letter-spacing="0.00" fill="#e01616">2</text>
<text x="1548.94" y="154.09" font-size="23" letter-spacing="0.89" fill="#0a0ac8">(i)</text>
<text x="1576.70" y="237.14" font-size="23" letter-spacing="0.48" fill="#0a0ac8">(ii)</text>
</svg></body></html>
